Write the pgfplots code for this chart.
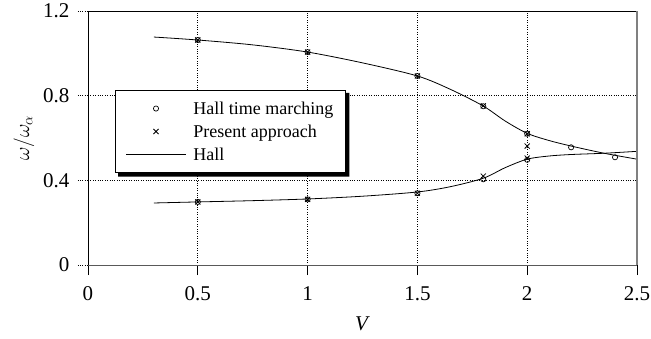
\documentclass[border=0pt]{standalone}
\usepackage{fontspec}
\setmainfont{Liberation Serif}
\usepackage{pgfplots}
\pgfplotsset{compat=1.18}

\newcommand{\lbl}{\fontsize{21pt}{24pt}\selectfont}
\newcommand{\leg}{\fontsize{18pt}{21pt}\selectfont}

\begin{document}
\begin{tikzpicture}
\useasboundingbox (-88pt,-73pt) rectangle (563pt,265pt);
\begin{axis}[
  scale only axis,
  width=549pt, height=254pt,
  xmin=0, xmax=2.5, ymin=0, ymax=1.2,
  axis x line*=bottom, axis y line*=left,
  x axis line style={gray!70!black, line width=0.8pt},
  y axis line style={black, line width=0.8pt},
  xtick={0,0.5,1,1.5,2,2.5},
  xticklabels={0,0.5,1,1.5,2,2.5},
  ytick={0,0.4,0.8,1.2},
  yticklabels={0,0.4,0.8,1.2},
  tick align=outside,
  major tick length=10pt,
  xtick style={black, line width=0.8pt},
  ytick style={black, dotted, line width=0.8pt},
  grid=major,
  major grid style={black, dotted, line width=0.6pt},
  tick label style={font=\lbl},
  xticklabel style={yshift=-8pt},
  yticklabel style={xshift=-5pt},
  xlabel={\textit{V}},
  xlabel style={font=\lbl, yshift=-9pt},
  ylabel={$\omega/\omega_\alpha$},
  ylabel style={font=\lbl, yshift=2pt},
  legend cell align=left,
  legend style={
    name=leg,
    at={(axis cs:0.123,0.827)}, anchor=north west,
    draw=black, line width=1.2pt, fill=white,
    font=\leg, inner xsep=10pt, inner ysep=9pt,
    row sep=5pt,
    /tikz/every odd column/.append style={column sep=5pt},
  },
  extra description/.code={
    \draw[black, line width=0.9pt] (rel axis cs:0,1) -- (rel axis cs:1,1);
    \draw[gray, line width=1.2pt] (rel axis cs:1,0) -- (rel axis cs:1,1);
  },
]

% Hall time marching (circles)
\addplot[only marks, mark=o, mark size=2.6pt, black, line width=0.7pt,
  legend image code/.code={\draw[mark=o, mark size=2.6pt, line width=0.7pt] plot coordinates {(30pt,0pt)};}]
  coordinates {
  (0.5,1.063) (1.0,1.006) (1.5,0.893) (1.8,0.750) (2.0,0.620) (2.2,0.556) (2.4,0.509)
  (0.5,0.298) (1.0,0.310) (1.5,0.339) (1.8,0.405) (2.0,0.497)
};
\addlegendentry{Hall time marching}

% Present approach (crosses)
\addplot[only marks, mark=x, mark size=3.6pt, black, line width=0.8pt,
  legend image code/.code={\draw[mark=x, mark size=3.6pt, line width=0.8pt] plot coordinates {(30pt,0pt)};}]
  coordinates {
  (0.5,1.063) (1.0,1.006) (1.5,0.893) (1.8,0.752) (2.0,0.620) (2.0,0.562)
  (0.5,0.298) (1.0,0.310) (1.5,0.339) (1.8,0.420) (2.0,0.505)
};
\addlegendentry{Present approach}

% Hall (solid curves)
\addplot[black, line width=0.8pt, smooth,
  legend image code/.code={\draw[line width=0.8pt] (0pt,0pt) -- (60pt,0pt);}]
  coordinates {
  (0.3,1.077) (0.5,1.063) (0.75,1.040) (1.0,1.006) (1.25,0.955) (1.5,0.893)
  (1.65,0.830) (1.8,0.751) (1.9,0.680) (2.0,0.622) (2.1,0.588) (2.2,0.562)
  (2.35,0.528) (2.5,0.500)
};
\addlegendentry{Hall}
\addplot[black, line width=0.8pt, smooth, forget plot]
  coordinates {
  (0.3,0.293) (0.5,0.298) (0.75,0.304) (1.0,0.312) (1.25,0.325) (1.5,0.345)
  (1.65,0.370) (1.8,0.410) (1.9,0.460) (2.0,0.500) (2.1,0.515) (2.2,0.522)
  (2.35,0.528) (2.5,0.537)
};

\end{axis}
% drop shadow along the right and lower edges of the legend box
\fill[black] ([yshift=-3pt]leg.north east) -- ++(3.5pt,0pt)
  |- ([xshift=3pt,yshift=-3.5pt]leg.south west) -- ++(0pt,3.5pt) -| cycle;
\end{tikzpicture}
\end{document}
